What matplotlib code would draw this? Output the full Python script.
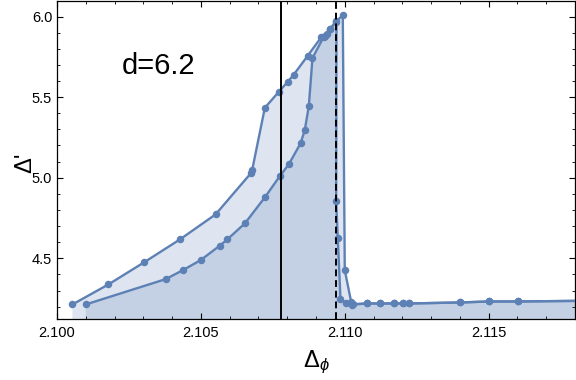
import matplotlib.pyplot as plt
from matplotlib.ticker import MultipleLocator

plt.rcParams['font.family'] = ['Liberation Sans', 'DejaVu Sans']
plt.rcParams['mathtext.fontset'] = 'custom'
plt.rcParams['mathtext.rm'] = 'Liberation Sans'
plt.rcParams['mathtext.it'] = 'Liberation Sans:italic'

# Curva superior (rama izquierda + caida)
upper_x = [2.100535, 2.101785, 2.103021, 2.104271, 2.105510, 2.106750, 2.106785,
           2.107222, 2.107708, 2.108021, 2.108229, 2.108705, 2.109181, 2.109330,
           2.109503, 2.109694, 2.109931, 2.110000, 2.110222, 2.110278]
upper_y = [4.2135, 4.3377, 4.4743, 4.6170, 4.7722, 5.0304, 5.0503,
           5.4333, 5.5332, 5.5953, 5.6400, 5.7548, 5.8709, 5.8790,
           5.9255, 5.9690, 6.0074, 4.4264, 4.2297, 4.2154]

# Curva inferior
lower_x = [2.100997, 2.103774, 2.104375, 2.104990, 2.105649, 2.105917, 2.106528,
           2.107222, 2.107743, 2.108056, 2.108462, 2.108611, 2.108750, 2.108878,
           2.109271, 2.109382, 2.109503, 2.109712, 2.109701, 2.109757, 2.109851,
           2.110042, 2.110250]
lower_y = [4.2135, 4.3706, 4.4264, 4.4885, 4.5773, 4.6170, 4.7163,
           4.8777, 5.0099, 5.0832, 5.2129, 5.2955, 5.4444, 5.7424,
           5.8746, 5.8914, 5.9255, 5.9720, 4.8566, 4.6232, 4.2477,
           4.2216, 4.2123]

# Tramo horizontal comun a las dos curvas
tail_x = [2.110761, 2.111215, 2.111701, 2.112014, 2.112222, 2.113993, 2.115000,
          2.116007, 2.119000]
tail_y = [4.2197, 4.2197, 4.2197, 4.2197, 4.2197, 4.2259, 4.2321,
          4.2321, 4.2376]

linea_solida = 2.10777
linea_discontinua = 2.10971

x_min, x_max = 2.100, 2.118
y_min, y_max = 4.1234, 6.0962
azul = '#5E81B5'

fig = plt.figure(figsize=(5.76, 3.8), dpi=100)
ax = fig.add_axes([57 / 576, 61 / 380, 518 / 576, 318 / 380])

for xs, ys in [(upper_x + tail_x, upper_y + tail_y), (lower_x + tail_x, lower_y + tail_y)]:
    # Relleno hasta el eje
    px = xs + [xs[-1], xs[0]]
    py = ys + [y_min - 1, y_min - 1]
    ax.fill(px, py, color=azul, alpha=0.2, lw=0)
    ax.plot(xs, ys, color=azul, lw=1.7, marker='o', ms=4.4, zorder=3)

ax.axvline(linea_solida, color='black', lw=1.4, zorder=4)
ax.axvline(linea_discontinua, color='black', lw=1.4, ls=(0, (3.5, 2)), zorder=4)

ax.text(0.1255, 0.770, 'd=6.2', transform=ax.transAxes, fontsize=21, va='baseline')

ax.set_xlim(x_min, x_max)
ax.set_ylim(y_min, y_max)
ax.xaxis.set_major_locator(MultipleLocator(0.005))
ax.xaxis.set_minor_locator(MultipleLocator(0.001))
ax.yaxis.set_major_locator(MultipleLocator(0.5))
ax.yaxis.set_minor_locator(MultipleLocator(0.1))
ax.xaxis.set_major_formatter(plt.FuncFormatter(lambda v, p: f'{v:.3f}'))
ax.yaxis.set_major_formatter(plt.FuncFormatter(lambda v, p: f'{v:.1f}'))
ax.tick_params(which='both', direction='in', top=True, right=True, labelsize=10.5)
ax.tick_params(which='major', length=4.5, width=0.8)
ax.tick_params(which='minor', length=2.5, width=0.6)
ax.tick_params(axis='x', pad=5)
ax.tick_params(axis='y', pad=3.5)
for s in ax.spines.values():
    s.set_linewidth(0.9)

ax.set_xlabel(r'$\mathregular{\Delta}_{\phi}$', fontsize=17, labelpad=6)
ax.set_ylabel("Δ'", fontsize=17)
ax.yaxis.set_label_coords(-0.04, 0.49)

plt.savefig('out.png', dpi=100)
